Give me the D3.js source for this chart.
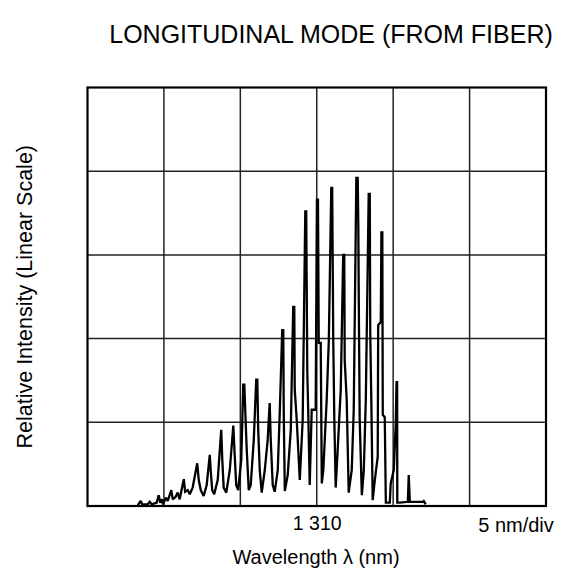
<!DOCTYPE html>
<html>
<head>
<meta charset="utf-8">
<script src="https://cdn.jsdelivr.net/npm/d3@7"></script>
<style>
  html, body { margin: 0; padding: 0; background: #fff; }
  svg { display: block; }
  text { font-family: "Liberation Sans", Arial, sans-serif; fill: #000; }
</style>
</head>
<body>
<svg id="chart" width="576" height="577"></svg>
<script>
// ---- Data ----
const titleText = "LONGITUDINAL MODE (FROM FIBER)";
const xLabel = "Wavelength  \u03bb (nm)";
const yLabel = "Relative Intensity (Linear Scale)";
const xDomain = [1295, 1325];          // nm, 5 nm per division
const yDomain = [0, 5];                // divisions (linear)
const xGrid = [1295, 1300, 1305, 1310, 1315, 1320, 1325];
const yGrid = [0, 1, 2, 3, 4, 5];
const xTickValues = [1310];
const xTickLabels = ["1 310"];
const scaleNote = "5 nm/div";

// spectrum trace: wavelength (nm) and relative intensity (divisions)
const wavelength = [
  1298.29,1298.48,1298.58,1298.94,1299.07,1299.20,1299.53,1299.66,1299.76,1299.86,
  1299.95,1300.12,1300.25,1300.48,1300.58,1300.77,1300.90,1301.03,1301.30,1301.39,
  1301.56,1301.69,1301.88,1302.18,1302.28,1302.41,1302.60,1302.80,1303.00,1303.06,
  1303.16,1303.29,1303.52,1303.75,1303.82,1303.91,1304.08,1304.31,1304.54,1304.63,
  1304.73,1304.86,1305.06,1305.19,1305.26,1305.32,1305.42,1305.55,1305.68,1305.88,
  1306.04,1306.11,1306.17,1306.27,1306.40,1306.60,1306.79,1306.92,1306.99,1307.12,
  1307.25,1307.45,1307.58,1307.74,1307.81,1307.84,1307.91,1308.10,1308.30,1308.46,
  1308.53,1308.56,1308.69,1308.89,1309.08,1309.25,1309.31,1309.38,1309.44,1309.54,
  1309.67,1309.93,1310.01,1310.08,1310.13,1310.26,1310.33,1310.43,1310.65,1310.79,
  1310.95,1311.01,1311.08,1311.15,1311.24,1311.37,1311.57,1311.73,1311.80,1311.83,
  1311.96,1312.09,1312.29,1312.42,1312.59,1312.68,1312.72,1312.75,1312.81,1312.95,
  1313.08,1313.21,1313.40,1313.47,1313.50,1313.57,1313.66,1313.80,1313.99,1314.02,
  1314.19,1314.23,1314.29,1314.32,1314.45,1314.52,1314.78,1314.84,1315.04,1315.17,
  1315.22,1315.26,1315.27,1315.43,1315.96,1316.02,1316.09,1316.94,1317.00,1317.13
];
const intensity = [
  0.01,0.06,0.02,0.02,0.05,0.02,0.04,0.13,0.04,0.08,
  0.02,0.10,0.06,0.19,0.08,0.11,0.16,0.08,0.32,0.17,
  0.19,0.14,0.22,0.51,0.31,0.19,0.12,0.25,0.61,0.43,
  0.19,0.14,0.31,0.91,0.55,0.22,0.16,0.43,0.96,0.61,
  0.25,0.19,0.55,1.45,1.45,1.15,0.67,0.19,0.25,0.79,
  1.51,1.51,0.91,0.43,0.16,0.43,0.79,1.23,0.79,0.25,
  0.17,0.43,1.12,2.10,2.10,1.12,0.18,0.37,0.91,2.38,
  2.38,1.39,1.03,0.31,1.03,3.52,3.52,1.62,1.15,0.25,
  1.15,1.15,3.66,3.66,1.95,1.95,0.27,0.43,1.27,1.98,
  3.80,3.80,1.98,1.03,0.22,0.67,1.39,3.00,3.00,1.74,
  1.27,0.16,0.43,1.15,3.92,3.92,3.33,2.46,1.03,0.13,
  0.43,1.27,3.73,3.73,2.07,1.27,0.07,0.31,0.59,2.16,
  2.20,3.27,3.27,1.09,1.06,0.04,0.04,0.27,0.43,0.99,
  1.48,1.48,0.04,0.04,0.05,0.37,0.05,0.05,0.06,0.02
];

// ---- Layout ----
const svg = d3.select("#chart");
const plot = { left: 87.5, right: 546, top: 87.5, bottom: 506 };

const x = d3.scaleLinear().domain(xDomain).range([plot.left, plot.right]);
const y = d3.scaleLinear().domain(yDomain).range([plot.bottom, plot.top]);

// grid
const g = svg.append("g");
g.selectAll("line.vg").data(xGrid.slice(1, -1)).enter().append("line")
  .attr("x1", d => x(d)).attr("x2", d => x(d))
  .attr("y1", plot.top).attr("y2", plot.bottom)
  .attr("stroke", "#222").attr("stroke-width", 1.5);
g.selectAll("line.hg").data(yGrid.slice(1, -1)).enter().append("line")
  .attr("x1", plot.left).attr("x2", plot.right)
  .attr("y1", d => y(d)).attr("y2", d => y(d))
  .attr("stroke", "#222").attr("stroke-width", 1.5);

// trace
const pts = wavelength.map((w, i) => [w, intensity[i]]);
const line = d3.line().x(d => x(d[0])).y(d => y(d[1]));
svg.append("path").datum(pts)
  .attr("d", line)
  .attr("fill", "none").attr("stroke", "#000")
  .attr("stroke-width", 2.3).attr("stroke-linejoin", "miter").attr("stroke-miterlimit", 2);

// frame
svg.append("rect")
  .attr("x", plot.left).attr("y", plot.top)
  .attr("width", plot.right - plot.left).attr("height", plot.bottom - plot.top)
  .attr("fill", "none").attr("stroke", "#000").attr("stroke-width", 2.2);

// x tick labels (no tick marks)
const xAxis = d3.axisBottom(x).tickValues(xTickValues)
  .tickFormat((d, i) => xTickLabels[i]).tickSize(0).tickPadding(10);
const ax = svg.append("g").attr("transform", `translate(0,${plot.bottom})`).call(xAxis);
ax.select(".domain").remove();
ax.selectAll("text").attr("font-size", 19.5).attr("font-family", "Liberation Sans, Arial, sans-serif");

svg.append("text").attr("x", 516).attr("y", 532).attr("text-anchor", "middle")
  .attr("font-size", 20).text(scaleNote);

svg.append("text").attr("x", 316).attr("y", 564).attr("text-anchor", "middle")
  .attr("font-size", 20).text(xLabel);

svg.append("text")
  .attr("transform", `translate(32,${(plot.top + plot.bottom) / 2}) rotate(-90)`)
  .attr("text-anchor", "middle").attr("font-size", 21.5).text(yLabel);

svg.append("text").attr("x", 331).attr("y", 43).attr("text-anchor", "middle")
  .attr("font-size", 25).text(titleText);
</script>
</body>
</html>
